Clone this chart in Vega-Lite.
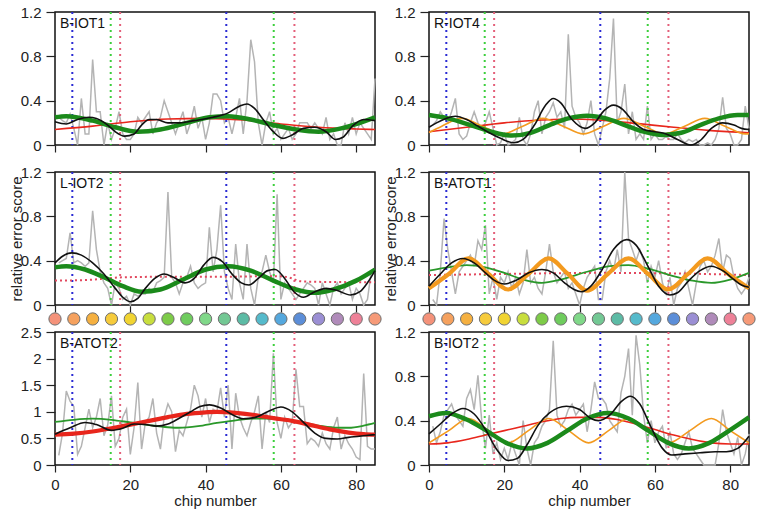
{
"$schema":"https://vega.github.io/schema/vega-lite/v6.json",
"padding":{"left":8,"top":4,"right":5,"bottom":5},
"datasets":{
"vlines":[{"x":4.6,"c":"b"},{"x":14.8,"c":"g"},{"x":17.3,"c":"r"},{"x":45.5,"c":"b"},{"x":58.1,"c":"g"},{"x":63.6,"c":"r"}],
"chips":[{"x":0},{"x":5},{"x":10},{"x":15},{"x":20},{"x":25},{"x":30},{"x":35},{"x":40},{"x":45},{"x":50},{"x":55},{"x":60},{"x":65},{"x":70},{"x":75},{"x":80},{"x":85}],
"gray":[
{"x":1,"a":0.25,"b":0.18,"c":0.38,"d":0.05,"e":0.18,"f":0.35},
{"x":2,"a":0.22,"b":0.22,"c":0.4,"d":0,"e":0.6,"f":0.2},
{"x":3,"a":0.2,"b":0.3,"c":0.42,"d":0.3,"e":1.39,"f":0.3},
{"x":4,"a":0.28,"b":0.25,"c":0.65,"d":0.78,"e":1.2,"f":0.45},
{"x":5,"a":0.15,"b":0.2,"c":0.38,"d":0.5,"e":1.1,"f":0.5},
{"x":6,"a":0,"b":0.3,"c":0.4,"d":0.3,"e":0.2,"f":0.55},
{"x":7,"a":0.42,"b":0.42,"c":0.38,"d":0.1,"e":0.35,"f":0.45},
{"x":8,"a":0.1,"b":0.1,"c":0.35,"d":0.3,"e":0.7,"f":0.4},
{"x":9,"a":0.1,"b":0.05,"c":0.38,"d":0.35,"e":1.05,"f":0.35},
{"x":10,"a":0.77,"b":0.08,"c":0.85,"d":0.4,"e":0.7,"f":0.6},
{"x":11,"a":0.3,"b":0.2,"c":0.5,"d":0.45,"e":0.9,"f":0.68},
{"x":12,"a":0.3,"b":0.3,"c":0.3,"d":0.35,"e":1.25,"f":0.5},
{"x":13,"a":0,"b":0.2,"c":0.2,"d":0.58,"e":0.55,"f":0.81},
{"x":14,"a":0.2,"b":0.15,"c":0.15,"d":0.5,"e":0.75,"f":0.4},
{"x":15,"a":0.05,"b":0.2,"c":0,"d":0.72,"e":1.3,"f":0.15},
{"x":16,"a":0.15,"b":0.3,"c":0.2,"d":0.1,"e":0.35,"f":0.45},
{"x":17,"a":0.3,"b":0.15,"c":0.15,"d":0.25,"e":0.5,"f":0.1},
{"x":18,"a":0.1,"b":0,"c":0.05,"d":0.05,"e":0.9,"f":0.2},
{"x":19,"a":0.05,"b":0.02,"c":0.08,"d":0.25,"e":1.05,"f":0.05},
{"x":20,"a":0.05,"b":0.1,"c":0,"d":0.2,"e":0.2,"f":0.15},
{"x":21,"a":0.1,"b":0,"c":0.1,"d":0.3,"e":0.7,"f":0.05},
{"x":22,"a":0.25,"b":0.02,"c":0.08,"d":0.15,"e":1.55,"f":0.2},
{"x":23,"a":0.2,"b":0.05,"c":0.1,"d":0.25,"e":0.3,"f":0.1},
{"x":24,"a":0.25,"b":0.25,"c":0.1,"d":0.1,"e":0.8,"f":0},
{"x":25,"a":0.3,"b":0.05,"c":0.15,"d":0.2,"e":0.9,"f":0.4},
{"x":26,"a":0.1,"b":0,"c":0.12,"d":0.5,"e":1.25,"f":0.15},
{"x":27,"a":0.2,"b":0.1,"c":0.2,"d":0.2,"e":0.6,"f":0},
{"x":28,"a":0.25,"b":0.3,"c":0.22,"d":0.25,"e":0.3,"f":0.2},
{"x":29,"a":0.4,"b":0.4,"c":0.25,"d":0.15,"e":0.9,"f":0.25},
{"x":30,"a":0.3,"b":0.1,"c":1.02,"d":0.1,"e":1.15,"f":0.35},
{"x":31,"a":0.2,"b":0.25,"c":0.25,"d":0.3,"e":1.0,"f":0.4},
{"x":32,"a":0.1,"b":0.3,"c":0.2,"d":0.55,"e":0.25,"f":0.5},
{"x":33,"a":0.2,"b":0.38,"c":0.1,"d":0.3,"e":0.65,"f":1.12},
{"x":34,"a":0.3,"b":0.25,"c":0.2,"d":0.2,"e":0.55,"f":0.45},
{"x":35,"a":0.1,"b":0.3,"c":0.25,"d":0.25,"e":0.8,"f":0.35},
{"x":36,"a":0.2,"b":0.15,"c":0.35,"d":0.3,"e":1.05,"f":0.4},
{"x":37,"a":0.35,"b":1.0,"c":0.2,"d":0.15,"e":1.5,"f":0.5},
{"x":38,"a":0.15,"b":0.35,"c":0.15,"d":0.2,"e":1.3,"f":0.55},
{"x":39,"a":0.25,"b":0.25,"c":0.18,"d":0.1,"e":0.9,"f":0.45},
{"x":40,"a":0.05,"b":0.2,"c":0.2,"d":0,"e":1.25,"f":0.5},
{"x":41,"a":0.2,"b":0.1,"c":0.7,"d":0.15,"e":0.8,"f":0.55},
{"x":42,"a":0.46,"b":0.2,"c":0.3,"d":0.25,"e":1.05,"f":0.3},
{"x":43,"a":0.46,"b":0.4,"c":0.5,"d":0.3,"e":1.0,"f":0.5},
{"x":44,"a":0.4,"b":0.1,"c":0.9,"d":0.35,"e":1.45,"f":0.75},
{"x":45,"a":0.2,"b":0,"c":0.3,"d":0.05,"e":0.9,"f":0.6},
{"x":46,"a":0.25,"b":0.15,"c":0.15,"d":0.05,"e":1.5,"f":0.6},
{"x":47,"a":0.1,"b":0.3,"c":0.05,"d":0.3,"e":0.3,"f":0.55},
{"x":48,"a":0.25,"b":0.6,"c":0.55,"d":0.4,"e":1.35,"f":0.4},
{"x":49,"a":0.42,"b":1.14,"c":0.2,"d":0.3,"e":0.9,"f":0.35},
{"x":50,"a":0.1,"b":0.2,"c":0.05,"d":0.5,"e":0.7,"f":0.3},
{"x":51,"a":0.4,"b":0.3,"c":0.55,"d":0.3,"e":0.55,"f":0.65},
{"x":52,"a":0.95,"b":0.55,"c":0.15,"d":1.2,"e":0.8,"f":0.8},
{"x":53,"a":0.75,"b":0.1,"c":0,"d":0.6,"e":1.0,"f":1.05},
{"x":54,"a":0.2,"b":0.3,"c":0.25,"d":0.5,"e":1.3,"f":0.45},
{"x":55,"a":0,"b":0.05,"c":0.3,"d":0.4,"e":0.3,"f":1.17},
{"x":56,"a":0.2,"b":0.1,"c":0.45,"d":0.5,"e":1.0,"f":0.9},
{"x":57,"a":0.3,"b":0.05,"c":0.3,"d":0.4,"e":0.8,"f":0.45},
{"x":58,"a":0.1,"b":0.35,"c":0.2,"d":0.2,"e":2.1,"f":0.2},
{"x":59,"a":0.15,"b":0.05,"c":1.0,"d":0.35,"e":0.8,"f":0.4},
{"x":60,"a":0.05,"b":0.1,"c":0.05,"d":0.25,"e":0.5,"f":0.2},
{"x":61,"a":0.1,"b":0.05,"c":0.2,"d":0.4,"e":0.9,"f":0.3},
{"x":62,"a":0.15,"b":0.05,"c":0.15,"d":0.2,"e":0.7,"f":0.35},
{"x":63,"a":0.05,"b":0.08,"c":0.1,"d":0.1,"e":0.8,"f":0.15},
{"x":64,"a":0.1,"b":0.05,"c":0.05,"d":0.25,"e":1.8,"f":0.3},
{"x":65,"a":0.2,"b":0.05,"c":0.1,"d":0,"e":1.1,"f":0.1},
{"x":66,"a":0.2,"b":0.1,"c":0.15,"d":0.15,"e":1.1,"f":0.05},
{"x":67,"a":0.2,"b":0.05,"c":0.2,"d":0.2,"e":0.4,"f":0.1},
{"x":68,"a":0.15,"b":0.02,"c":0.18,"d":0.3,"e":0.5,"f":0.2},
{"x":69,"a":0.2,"b":0.05,"c":0.15,"d":0.15,"e":0.45,"f":0.3},
{"x":70,"a":0.15,"b":0.03,"c":0,"d":0,"e":0.35,"f":0.15},
{"x":71,"a":0.1,"b":0.05,"c":0.2,"d":0.2,"e":0.6,"f":0.1},
{"x":72,"a":0.25,"b":0,"c":0.1,"d":0.35,"e":0.4,"f":0.05},
{"x":73,"a":0.05,"b":0,"c":0,"d":0.4,"e":0.3,"f":0},
{"x":74,"a":0.1,"b":0.02,"c":0.15,"d":0.3,"e":0.7,"f":0},
{"x":75,"a":0,"b":0,"c":0.2,"d":0.35,"e":0.9,"f":0},
{"x":76,"a":0,"b":0.05,"c":0.1,"d":0.45,"e":0.3,"f":0},
{"x":77,"a":0.2,"b":0.15,"c":0.15,"d":0.6,"e":0.55,"f":0.2},
{"x":78,"a":0.1,"b":0.43,"c":0.2,"d":0.3,"e":0.4,"f":0.5},
{"x":79,"a":0.25,"b":0.15,"c":0.05,"d":0.45,"e":0.3,"f":0.3},
{"x":80,"a":0.1,"b":0.1,"c":0.15,"d":0.42,"e":0.15,"f":0.2},
{"x":81,"a":0.2,"b":0,"c":0.1,"d":0.25,"e":0.1,"f":0.1},
{"x":82,"a":0.15,"b":0,"c":0,"d":0.15,"e":1.72,"f":0.25},
{"x":83,"a":0.1,"b":0.05,"c":0.05,"d":0.1,"e":0.35,"f":0},
{"x":84,"a":0.05,"b":0.35,"c":0.3,"d":0.15,"e":0.3,"f":0.1},
{"x":85,"a":0.6,"b":0.15,"c":0.3,"d":0.25,"e":0.3,"f":0.28}
],
"fits":[
{"p":"a","s":"k","x":0,"y":0.21},{"p":"a","s":"k","x":3,"y":0.19},{"p":"a","s":"k","x":6,"y":0.23},{"p":"a","s":"k","x":9,"y":0.25},{"p":"a","s":"k","x":11,"y":0.24},{"p":"a","s":"k","x":14,"y":0.18},{"p":"a","s":"k","x":16,"y":0.12},{"p":"a","s":"k","x":18.5,"y":0.08},{"p":"a","s":"k","x":21,"y":0.1},{"p":"a","s":"k","x":23,"y":0.18},{"p":"a","s":"k","x":25,"y":0.23},{"p":"a","s":"k","x":27,"y":0.23},{"p":"a","s":"k","x":30,"y":0.2},{"p":"a","s":"k","x":33,"y":0.2},{"p":"a","s":"k","x":37,"y":0.22},{"p":"a","s":"k","x":42,"y":0.25},{"p":"a","s":"k","x":46,"y":0.29},{"p":"a","s":"k","x":49,"y":0.35},{"p":"a","s":"k","x":51,"y":0.37},{"p":"a","s":"k","x":53,"y":0.33},{"p":"a","s":"k","x":55.5,"y":0.22},{"p":"a","s":"k","x":58,"y":0.12},{"p":"a","s":"k","x":60.5,"y":0.06},{"p":"a","s":"k","x":63,"y":0.09},{"p":"a","s":"k","x":66,"y":0.15},{"p":"a","s":"k","x":69,"y":0.16},{"p":"a","s":"k","x":72,"y":0.12},{"p":"a","s":"k","x":74.5,"y":0.05},{"p":"a","s":"k","x":76.5,"y":0.07},{"p":"a","s":"k","x":79,"y":0.17},{"p":"a","s":"k","x":82,"y":0.23},{"p":"a","s":"k","x":85,"y":0.22},
{"p":"a","s":"g","x":0,"y":0.25},{"p":"a","s":"g","x":3,"y":0.26},{"p":"a","s":"g","x":10,"y":0.22},{"p":"a","s":"g","x":16,"y":0.16},{"p":"a","s":"g","x":22,"y":0.12},{"p":"a","s":"g","x":28,"y":0.14},{"p":"a","s":"g","x":35,"y":0.2},{"p":"a","s":"g","x":41,"y":0.25},{"p":"a","s":"g","x":46,"y":0.26},{"p":"a","s":"g","x":52,"y":0.23},{"p":"a","s":"g","x":58,"y":0.18},{"p":"a","s":"g","x":64,"y":0.14},{"p":"a","s":"g","x":70,"y":0.12},{"p":"a","s":"g","x":76,"y":0.15},{"p":"a","s":"g","x":81,"y":0.2},{"p":"a","s":"g","x":85,"y":0.25},
{"p":"a","s":"r","x":0,"y":0.14},{"p":"a","s":"r","x":10,"y":0.17},{"p":"a","s":"r","x":20,"y":0.21},{"p":"a","s":"r","x":30,"y":0.235},{"p":"a","s":"r","x":40,"y":0.24},{"p":"a","s":"r","x":50,"y":0.225},{"p":"a","s":"r","x":60,"y":0.19},{"p":"a","s":"r","x":70,"y":0.16},{"p":"a","s":"r","x":80,"y":0.145},{"p":"a","s":"r","x":85,"y":0.14},
{"p":"b","s":"k","x":0,"y":0.16},{"p":"b","s":"k","x":2,"y":0.2},{"p":"b","s":"k","x":4.5,"y":0.24},{"p":"b","s":"k","x":7,"y":0.26},{"p":"b","s":"k","x":10,"y":0.23},{"p":"b","s":"k","x":13,"y":0.17},{"p":"b","s":"k","x":16,"y":0.11},{"p":"b","s":"k","x":19,"y":0.06},{"p":"b","s":"k","x":22.5,"y":0.02},{"p":"b","s":"k","x":25,"y":0.05},{"p":"b","s":"k","x":28,"y":0.18},{"p":"b","s":"k","x":31,"y":0.36},{"p":"b","s":"k","x":33,"y":0.42},{"p":"b","s":"k","x":35,"y":0.38},{"p":"b","s":"k","x":38,"y":0.23},{"p":"b","s":"k","x":41.5,"y":0.15},{"p":"b","s":"k","x":44,"y":0.2},{"p":"b","s":"k","x":46.5,"y":0.31},{"p":"b","s":"k","x":49,"y":0.36},{"p":"b","s":"k","x":51.5,"y":0.32},{"p":"b","s":"k","x":54,"y":0.22},{"p":"b","s":"k","x":57,"y":0.14},{"p":"b","s":"k","x":60,"y":0.12},{"p":"b","s":"k","x":63,"y":0.1},{"p":"b","s":"k","x":66,"y":0.05},{"p":"b","s":"k","x":69.5,"y":0},{"p":"b","s":"k","x":72,"y":0.04},{"p":"b","s":"k","x":75,"y":0.15},{"p":"b","s":"k","x":78,"y":0.2},{"p":"b","s":"k","x":81,"y":0.18},{"p":"b","s":"k","x":83,"y":0.15},{"p":"b","s":"k","x":85,"y":0.14},
{"p":"b","s":"g","x":0,"y":0.27},{"p":"b","s":"g","x":5,"y":0.24},{"p":"b","s":"g","x":11,"y":0.18},{"p":"b","s":"g","x":16.5,"y":0.12},{"p":"b","s":"g","x":22,"y":0.085},{"p":"b","s":"g","x":27,"y":0.11},{"p":"b","s":"g","x":32,"y":0.18},{"p":"b","s":"g","x":37,"y":0.24},{"p":"b","s":"g","x":42,"y":0.265},{"p":"b","s":"g","x":47,"y":0.24},{"p":"b","s":"g","x":52,"y":0.18},{"p":"b","s":"g","x":57,"y":0.12},{"p":"b","s":"g","x":62,"y":0.09},{"p":"b","s":"g","x":67,"y":0.11},{"p":"b","s":"g","x":72,"y":0.18},{"p":"b","s":"g","x":77,"y":0.24},{"p":"b","s":"g","x":82,"y":0.27},{"p":"b","s":"g","x":85,"y":0.27},
{"p":"b","s":"o","x":0,"y":0.112},{"p":"b","s":"o","x":3.4,"y":0.17},{"p":"b","s":"o","x":8.75,"y":0.24},{"p":"b","s":"o","x":14.1,"y":0.17},{"p":"b","s":"o","x":19.5,"y":0.1},{"p":"b","s":"o","x":24.9,"y":0.17},{"p":"b","s":"o","x":30.25,"y":0.24},{"p":"b","s":"o","x":35.6,"y":0.17},{"p":"b","s":"o","x":41,"y":0.1},{"p":"b","s":"o","x":46.4,"y":0.17},{"p":"b","s":"o","x":51.75,"y":0.24},{"p":"b","s":"o","x":57.1,"y":0.17},{"p":"b","s":"o","x":62.5,"y":0.1},{"p":"b","s":"o","x":67.9,"y":0.17},{"p":"b","s":"o","x":73.25,"y":0.24},{"p":"b","s":"o","x":78.6,"y":0.17},{"p":"b","s":"o","x":84,"y":0.1},{"p":"b","s":"o","x":85,"y":0.102},
{"p":"b","s":"r","x":0,"y":0.12},{"p":"b","s":"r","x":10,"y":0.16},{"p":"b","s":"r","x":20,"y":0.2},{"p":"b","s":"r","x":30,"y":0.225},{"p":"b","s":"r","x":38,"y":0.235},{"p":"b","s":"r","x":45,"y":0.225},{"p":"b","s":"r","x":55,"y":0.195},{"p":"b","s":"r","x":65,"y":0.16},{"p":"b","s":"r","x":75,"y":0.13},{"p":"b","s":"r","x":85,"y":0.11},
{"p":"c","s":"k","x":0,"y":0.38},{"p":"c","s":"k","x":2,"y":0.44},{"p":"c","s":"k","x":4.5,"y":0.47},{"p":"c","s":"k","x":7,"y":0.45},{"p":"c","s":"k","x":10,"y":0.38},{"p":"c","s":"k","x":13,"y":0.28},{"p":"c","s":"k","x":16,"y":0.15},{"p":"c","s":"k","x":18,"y":0.07},{"p":"c","s":"k","x":20,"y":0.03},{"p":"c","s":"k","x":22,"y":0.06},{"p":"c","s":"k","x":24,"y":0.15},{"p":"c","s":"k","x":26.5,"y":0.24},{"p":"c","s":"k","x":29,"y":0.28},{"p":"c","s":"k","x":31.5,"y":0.25},{"p":"c","s":"k","x":34.5,"y":0.2},{"p":"c","s":"k","x":37,"y":0.24},{"p":"c","s":"k","x":39.5,"y":0.36},{"p":"c","s":"k","x":42,"y":0.43},{"p":"c","s":"k","x":44.5,"y":0.39},{"p":"c","s":"k","x":47,"y":0.28},{"p":"c","s":"k","x":49.5,"y":0.2},{"p":"c","s":"k","x":51.5,"y":0.18},{"p":"c","s":"k","x":54,"y":0.24},{"p":"c","s":"k","x":56.5,"y":0.31},{"p":"c","s":"k","x":58.5,"y":0.32},{"p":"c","s":"k","x":61,"y":0.24},{"p":"c","s":"k","x":63.5,"y":0.12},{"p":"c","s":"k","x":66,"y":0.07},{"p":"c","s":"k","x":69,"y":0.12},{"p":"c","s":"k","x":72,"y":0.15},{"p":"c","s":"k","x":75,"y":0.13},{"p":"c","s":"k","x":78.5,"y":0.09},{"p":"c","s":"k","x":81,"y":0.12},{"p":"c","s":"k","x":83,"y":0.2},{"p":"c","s":"k","x":85,"y":0.31},
{"p":"c","s":"g","x":0,"y":0.34},{"p":"c","s":"g","x":3,"y":0.35},{"p":"c","s":"g","x":8,"y":0.32},{"p":"c","s":"g","x":13,"y":0.25},{"p":"c","s":"g","x":18,"y":0.17},{"p":"c","s":"g","x":23,"y":0.12},{"p":"c","s":"g","x":28,"y":0.14},{"p":"c","s":"g","x":34,"y":0.23},{"p":"c","s":"g","x":40,"y":0.32},{"p":"c","s":"g","x":46,"y":0.35},{"p":"c","s":"g","x":52,"y":0.31},{"p":"c","s":"g","x":58,"y":0.22},{"p":"c","s":"g","x":64,"y":0.14},{"p":"c","s":"g","x":69,"y":0.11},{"p":"c","s":"g","x":74,"y":0.14},{"p":"c","s":"g","x":80,"y":0.22},{"p":"c","s":"g","x":85,"y":0.32},
{"p":"c","s":"d","x":0,"y":0.22},{"p":"c","s":"d","x":8,"y":0.225},{"p":"c","s":"d","x":14,"y":0.24},{"p":"c","s":"d","x":18,"y":0.25},{"p":"c","s":"d","x":30,"y":0.255},{"p":"c","s":"d","x":45,"y":0.255},{"p":"c","s":"d","x":58,"y":0.26},{"p":"c","s":"d","x":61,"y":0.255},{"p":"c","s":"d","x":63,"y":0.24},{"p":"c","s":"d","x":65,"y":0.215},{"p":"c","s":"d","x":68,"y":0.21},{"p":"c","s":"d","x":85,"y":0.205},
{"p":"d","s":"k","x":0,"y":0.17},{"p":"d","s":"k","x":3,"y":0.28},{"p":"d","s":"k","x":6,"y":0.38},{"p":"d","s":"k","x":9,"y":0.42},{"p":"d","s":"k","x":12,"y":0.38},{"p":"d","s":"k","x":15,"y":0.29},{"p":"d","s":"k","x":17.5,"y":0.22},{"p":"d","s":"k","x":20,"y":0.19},{"p":"d","s":"k","x":23,"y":0.22},{"p":"d","s":"k","x":26.5,"y":0.29},{"p":"d","s":"k","x":30,"y":0.32},{"p":"d","s":"k","x":33,"y":0.29},{"p":"d","s":"k","x":36,"y":0.2},{"p":"d","s":"k","x":38.5,"y":0.14},{"p":"d","s":"k","x":40.5,"y":0.12},{"p":"d","s":"k","x":43,"y":0.17},{"p":"d","s":"k","x":46,"y":0.32},{"p":"d","s":"k","x":49,"y":0.5},{"p":"d","s":"k","x":52.5,"y":0.59},{"p":"d","s":"k","x":55,"y":0.54},{"p":"d","s":"k","x":58,"y":0.36},{"p":"d","s":"k","x":61,"y":0.17},{"p":"d","s":"k","x":64,"y":0.09},{"p":"d","s":"k","x":66,"y":0.11},{"p":"d","s":"k","x":69,"y":0.22},{"p":"d","s":"k","x":72,"y":0.31},{"p":"d","s":"k","x":75,"y":0.35},{"p":"d","s":"k","x":78,"y":0.31},{"p":"d","s":"k","x":81,"y":0.23},{"p":"d","s":"k","x":83,"y":0.18},{"p":"d","s":"k","x":85,"y":0.16},
{"p":"d","s":"o","x":0,"y":0.15},{"p":"d","s":"o","x":5.25,"y":0.28},{"p":"d","s":"o","x":10.5,"y":0.42},{"p":"d","s":"o","x":15.8,"y":0.28},{"p":"d","s":"o","x":21,"y":0.14},{"p":"d","s":"o","x":26.4,"y":0.28},{"p":"d","s":"o","x":31.8,"y":0.42},{"p":"d","s":"o","x":36.9,"y":0.28},{"p":"d","s":"o","x":42,"y":0.13},{"p":"d","s":"o","x":47.5,"y":0.28},{"p":"d","s":"o","x":53,"y":0.42},{"p":"d","s":"o","x":58.2,"y":0.28},{"p":"d","s":"o","x":63.5,"y":0.14},{"p":"d","s":"o","x":68.8,"y":0.28},{"p":"d","s":"o","x":74,"y":0.42},{"p":"d","s":"o","x":79.5,"y":0.28},{"p":"d","s":"o","x":85,"y":0.15},
{"p":"d","s":"g","x":0,"y":0.31},{"p":"d","s":"g","x":5,"y":0.34},{"p":"d","s":"g","x":10,"y":0.36},{"p":"d","s":"g","x":15,"y":0.34},{"p":"d","s":"g","x":20,"y":0.29},{"p":"d","s":"g","x":25,"y":0.23},{"p":"d","s":"g","x":30,"y":0.2},{"p":"d","s":"g","x":35,"y":0.23},{"p":"d","s":"g","x":42,"y":0.3},{"p":"d","s":"g","x":48,"y":0.35},{"p":"d","s":"g","x":53,"y":0.36},{"p":"d","s":"g","x":58,"y":0.33},{"p":"d","s":"g","x":64,"y":0.27},{"p":"d","s":"g","x":70,"y":0.22},{"p":"d","s":"g","x":75,"y":0.2},{"p":"d","s":"g","x":80,"y":0.23},{"p":"d","s":"g","x":85,"y":0.29},
{"p":"d","s":"d","x":0,"y":0.27},{"p":"d","s":"d","x":20,"y":0.28},{"p":"d","s":"d","x":45,"y":0.29},{"p":"d","s":"d","x":65,"y":0.285},{"p":"d","s":"d","x":85,"y":0.27},
{"p":"e","s":"k","x":0,"y":0.58},{"p":"e","s":"k","x":4,"y":0.7},{"p":"e","s":"k","x":8,"y":0.8},{"p":"e","s":"k","x":11,"y":0.76},{"p":"e","s":"k","x":15,"y":0.65},{"p":"e","s":"k","x":18,"y":0.69},{"p":"e","s":"k","x":21,"y":0.77},{"p":"e","s":"k","x":24,"y":0.76},{"p":"e","s":"k","x":27,"y":0.73},{"p":"e","s":"k","x":30,"y":0.77},{"p":"e","s":"k","x":33,"y":0.88},{"p":"e","s":"k","x":36,"y":1.0},{"p":"e","s":"k","x":38.5,"y":1.1},{"p":"e","s":"k","x":41,"y":1.13},{"p":"e","s":"k","x":44,"y":1.07},{"p":"e","s":"k","x":47,"y":0.95},{"p":"e","s":"k","x":50,"y":0.87},{"p":"e","s":"k","x":53,"y":0.89},{"p":"e","s":"k","x":57,"y":1.02},{"p":"e","s":"k","x":60,"y":1.09},{"p":"e","s":"k","x":63,"y":1.0},{"p":"e","s":"k","x":66,"y":0.8},{"p":"e","s":"k","x":69,"y":0.6},{"p":"e","s":"k","x":72,"y":0.5},{"p":"e","s":"k","x":75,"y":0.49},{"p":"e","s":"k","x":78,"y":0.52},{"p":"e","s":"k","x":82,"y":0.55},{"p":"e","s":"k","x":85,"y":0.57},
{"p":"e","s":"r","x":0,"y":0.57},{"p":"e","s":"r","x":5,"y":0.59},{"p":"e","s":"r","x":10,"y":0.63},{"p":"e","s":"r","x":15,"y":0.69},{"p":"e","s":"r","x":20,"y":0.76},{"p":"e","s":"r","x":25,"y":0.83},{"p":"e","s":"r","x":30,"y":0.9},{"p":"e","s":"r","x":35,"y":0.96},{"p":"e","s":"r","x":40,"y":0.99},{"p":"e","s":"r","x":43,"y":1.0},{"p":"e","s":"r","x":48,"y":0.98},{"p":"e","s":"r","x":53,"y":0.94},{"p":"e","s":"r","x":58,"y":0.88},{"p":"e","s":"r","x":63,"y":0.83},{"p":"e","s":"r","x":68,"y":0.75},{"p":"e","s":"r","x":73,"y":0.67},{"p":"e","s":"r","x":78,"y":0.61},{"p":"e","s":"r","x":82,"y":0.58},{"p":"e","s":"r","x":85,"y":0.57},
{"p":"e","s":"g","x":0,"y":0.81},{"p":"e","s":"g","x":5,"y":0.85},{"p":"e","s":"g","x":10,"y":0.87},{"p":"e","s":"g","x":15,"y":0.85},{"p":"e","s":"g","x":20,"y":0.8},{"p":"e","s":"g","x":25,"y":0.75},{"p":"e","s":"g","x":30,"y":0.71},{"p":"e","s":"g","x":33,"y":0.7},{"p":"e","s":"g","x":38,"y":0.73},{"p":"e","s":"g","x":43,"y":0.79},{"p":"e","s":"g","x":48,"y":0.84},{"p":"e","s":"g","x":53,"y":0.87},{"p":"e","s":"g","x":56,"y":0.87},{"p":"e","s":"g","x":60,"y":0.85},{"p":"e","s":"g","x":65,"y":0.8},{"p":"e","s":"g","x":70,"y":0.74},{"p":"e","s":"g","x":75,"y":0.7},{"p":"e","s":"g","x":78,"y":0.7},{"p":"e","s":"g","x":82,"y":0.74},{"p":"e","s":"g","x":85,"y":0.79},
{"p":"f","s":"k","x":0,"y":0.28},{"p":"f","s":"k","x":3,"y":0.37},{"p":"f","s":"k","x":6,"y":0.46},{"p":"f","s":"k","x":9,"y":0.51},{"p":"f","s":"k","x":12,"y":0.46},{"p":"f","s":"k","x":15,"y":0.32},{"p":"f","s":"k","x":18,"y":0.14},{"p":"f","s":"k","x":21,"y":0.04},{"p":"f","s":"k","x":23.5,"y":0.06},{"p":"f","s":"k","x":26,"y":0.18},{"p":"f","s":"k","x":29,"y":0.36},{"p":"f","s":"k","x":32,"y":0.47},{"p":"f","s":"k","x":36.5,"y":0.53},{"p":"f","s":"k","x":40,"y":0.5},{"p":"f","s":"k","x":43,"y":0.42},{"p":"f","s":"k","x":45,"y":0.4},{"p":"f","s":"k","x":48,"y":0.45},{"p":"f","s":"k","x":51,"y":0.57},{"p":"f","s":"k","x":53.5,"y":0.62},{"p":"f","s":"k","x":56,"y":0.55},{"p":"f","s":"k","x":59,"y":0.34},{"p":"f","s":"k","x":62,"y":0.15},{"p":"f","s":"k","x":64.5,"y":0.09},{"p":"f","s":"k","x":68,"y":0.1},{"p":"f","s":"k","x":72,"y":0.11},{"p":"f","s":"k","x":76,"y":0.12},{"p":"f","s":"k","x":79,"y":0.12},{"p":"f","s":"k","x":82,"y":0.15},{"p":"f","s":"k","x":85,"y":0.26},
{"p":"f","s":"g","x":0,"y":0.44},{"p":"f","s":"g","x":4.5,"y":0.47},{"p":"f","s":"g","x":10,"y":0.41},{"p":"f","s":"g","x":15.25,"y":0.31},{"p":"f","s":"g","x":20.5,"y":0.2},{"p":"f","s":"g","x":26,"y":0.15},{"p":"f","s":"g","x":31.5,"y":0.2},{"p":"f","s":"g","x":36.75,"y":0.31},{"p":"f","s":"g","x":42,"y":0.42},{"p":"f","s":"g","x":47.5,"y":0.47},{"p":"f","s":"g","x":53,"y":0.42},{"p":"f","s":"g","x":58.25,"y":0.31},{"p":"f","s":"g","x":63.5,"y":0.2},{"p":"f","s":"g","x":69,"y":0.15},{"p":"f","s":"g","x":74.5,"y":0.2},{"p":"f","s":"g","x":79.75,"y":0.31},{"p":"f","s":"g","x":85,"y":0.43},
{"p":"f","s":"o","x":0,"y":0.2},{"p":"f","s":"o","x":5.25,"y":0.31},{"p":"f","s":"o","x":10.5,"y":0.42},{"p":"f","s":"o","x":15.8,"y":0.31},{"p":"f","s":"o","x":21,"y":0.2},{"p":"f","s":"o","x":26.4,"y":0.31},{"p":"f","s":"o","x":31.8,"y":0.42},{"p":"f","s":"o","x":37.1,"y":0.31},{"p":"f","s":"o","x":42.4,"y":0.2},{"p":"f","s":"o","x":47.7,"y":0.31},{"p":"f","s":"o","x":53,"y":0.42},{"p":"f","s":"o","x":58.4,"y":0.31},{"p":"f","s":"o","x":63.7,"y":0.2},{"p":"f","s":"o","x":69.3,"y":0.31},{"p":"f","s":"o","x":75,"y":0.42},{"p":"f","s":"o","x":80,"y":0.31},{"p":"f","s":"o","x":85,"y":0.2},
{"p":"f","s":"r","x":0,"y":0.19},{"p":"f","s":"r","x":5,"y":0.2},{"p":"f","s":"r","x":10,"y":0.23},{"p":"f","s":"r","x":15,"y":0.27},{"p":"f","s":"r","x":20,"y":0.31},{"p":"f","s":"r","x":25,"y":0.35},{"p":"f","s":"r","x":30,"y":0.39},{"p":"f","s":"r","x":35,"y":0.42},{"p":"f","s":"r","x":40,"y":0.43},{"p":"f","s":"r","x":45,"y":0.43},{"p":"f","s":"r","x":50,"y":0.41},{"p":"f","s":"r","x":55,"y":0.37},{"p":"f","s":"r","x":60,"y":0.32},{"p":"f","s":"r","x":65,"y":0.27},{"p":"f","s":"r","x":70,"y":0.23},{"p":"f","s":"r","x":75,"y":0.2},{"p":"f","s":"r","x":80,"y":0.19},{"p":"f","s":"r","x":85,"y":0.19}
]
},
"columns":2,
"spacing":{"row":27,"column":54},
"bounds":"flush",
"concat":[
{"width":320,"height":133,"layer":[
 {"data":{"name":"gray"},"transform":[{"fold":["a"],"as":["p","y"]}],"mark":{"type":"line","color":"#b4b4b4","strokeWidth":1.5},"encoding":{"x":{"field":"x","type":"quantitative","scale":{"domain":[0,85],"nice":false},"axis":{"values":[0,20,40,60,80],"tickCount":10,"labels":false,"title":null}},"y":{"field":"y","type":"quantitative","scale":{"domain":[0,1.2],"nice":false},"axis":{"values":[0,0.4,0.8,1.2],"tickCount":10,"format":".1~f","title":null}}}},
 {"data":{"values":[{"t":"B-IOT1"}]},"mark":{"type":"text","align":"left","baseline":"top","dx":5,"dy":5,"fontSize":14,"color":"#111"},"encoding":{"x":{"datum":0,"type":"quantitative"},"y":{"datum":1.2,"type":"quantitative"},"text":{"field":"t"}}},
 {"data":{"name":"vlines"},"mark":{"type":"rule","strokeDash":[2,4],"strokeWidth":2},"encoding":{"x":{"field":"x","type":"quantitative"},"stroke":{"field":"c","type":"nominal","scale":{"domain":["b","g","r"],"range":["#2b2bd4","#3ccf3c","#e4607a"]},"legend":null}}},
 {"data":{"name":"fits"},"transform":[{"filter":"datum.p=='a'&&datum.s=='r'"}],"mark":{"type":"line","color":"#e8261c","strokeWidth":1.6,"interpolate":"monotone"},"encoding":{"x":{"field":"x","type":"quantitative"},"y":{"field":"y","type":"quantitative"}}},
 {"data":{"name":"fits"},"transform":[{"filter":"datum.p=='a'&&datum.s=='g'"}],"mark":{"type":"line","color":"#1b8a1b","strokeWidth":4.5,"interpolate":"monotone"},"encoding":{"x":{"field":"x","type":"quantitative"},"y":{"field":"y","type":"quantitative"}}},
 {"data":{"name":"fits"},"transform":[{"filter":"datum.p=='a'&&datum.s=='k'"}],"mark":{"type":"line","color":"#111","strokeWidth":1.6,"interpolate":"monotone"},"encoding":{"x":{"field":"x","type":"quantitative"},"y":{"field":"y","type":"quantitative"}}}
]},
{"width":320,"height":133,"layer":[
 {"data":{"name":"gray"},"transform":[{"fold":["b"],"as":["p","y"]}],"mark":{"type":"line","color":"#b4b4b4","strokeWidth":1.5},"encoding":{"x":{"field":"x","type":"quantitative","scale":{"domain":[0,85],"nice":false},"axis":{"values":[0,20,40,60,80],"tickCount":10,"labels":false,"title":null}},"y":{"field":"y","type":"quantitative","scale":{"domain":[0,1.2],"nice":false},"axis":{"values":[0,0.4,0.8,1.2],"tickCount":10,"format":".1~f","title":null}}}},
 {"data":{"values":[{"t":"R-IOT4"}]},"mark":{"type":"text","align":"left","baseline":"top","dx":5,"dy":5,"fontSize":14,"color":"#111"},"encoding":{"x":{"datum":0,"type":"quantitative"},"y":{"datum":1.2,"type":"quantitative"},"text":{"field":"t"}}},
 {"data":{"name":"vlines"},"mark":{"type":"rule","strokeDash":[2,4],"strokeWidth":2},"encoding":{"x":{"field":"x","type":"quantitative"},"stroke":{"field":"c","type":"nominal","scale":{"domain":["b","g","r"],"range":["#2b2bd4","#3ccf3c","#e4607a"]},"legend":null}}},
 {"data":{"name":"fits"},"transform":[{"filter":"datum.p=='b'&&datum.s=='r'"}],"mark":{"type":"line","color":"#e8261c","strokeWidth":1.6,"interpolate":"monotone"},"encoding":{"x":{"field":"x","type":"quantitative"},"y":{"field":"y","type":"quantitative"}}},
 {"data":{"name":"fits"},"transform":[{"filter":"datum.p=='b'&&datum.s=='o'"}],"mark":{"type":"line","color":"#f39a1f","strokeWidth":1.6,"interpolate":"monotone"},"encoding":{"x":{"field":"x","type":"quantitative"},"y":{"field":"y","type":"quantitative"}}},
 {"data":{"name":"fits"},"transform":[{"filter":"datum.p=='b'&&datum.s=='g'"}],"mark":{"type":"line","color":"#1b8a1b","strokeWidth":4.5,"interpolate":"monotone"},"encoding":{"x":{"field":"x","type":"quantitative"},"y":{"field":"y","type":"quantitative"}}},
 {"data":{"name":"fits"},"transform":[{"filter":"datum.p=='b'&&datum.s=='k'"}],"mark":{"type":"line","color":"#111","strokeWidth":1.6,"interpolate":"monotone"},"encoding":{"x":{"field":"x","type":"quantitative"},"y":{"field":"y","type":"quantitative"}}}
]},
{"width":320,"height":133,"layer":[
 {"data":{"name":"gray"},"transform":[{"fold":["c"],"as":["p","y"]}],"mark":{"type":"line","color":"#b4b4b4","strokeWidth":1.5},"encoding":{"x":{"field":"x","type":"quantitative","scale":{"domain":[0,85],"nice":false},"axis":{"values":[0,20,40,60,80],"tickCount":10,"labels":false,"title":null}},"y":{"field":"y","type":"quantitative","scale":{"domain":[0,1.2],"nice":false},"axis":{"values":[0,0.4,0.8,1.2],"tickCount":10,"format":".1~f","title":"relative error score","titleX":-31,"titleY":66.5,"titleAngle":-90,"titleBaseline":"bottom","titleAlign":"center"}}}},
 {"data":{"values":[{"t":"L-IOT2"}]},"mark":{"type":"text","align":"left","baseline":"top","dx":5,"dy":5,"fontSize":14,"color":"#111"},"encoding":{"x":{"datum":0,"type":"quantitative"},"y":{"datum":1.2,"type":"quantitative"},"text":{"field":"t"}}},
 {"data":{"name":"vlines"},"mark":{"type":"rule","strokeDash":[2,4],"strokeWidth":2},"encoding":{"x":{"field":"x","type":"quantitative"},"stroke":{"field":"c","type":"nominal","scale":{"domain":["b","g","r"],"range":["#2b2bd4","#3ccf3c","#e4607a"]},"legend":null}}},
 {"data":{"name":"fits"},"transform":[{"filter":"datum.p=='c'&&datum.s=='d'"}],"mark":{"type":"line","color":"#e2485e","strokeWidth":2,"strokeDash":[2,3],"interpolate":"monotone"},"encoding":{"x":{"field":"x","type":"quantitative"},"y":{"field":"y","type":"quantitative"}}},
 {"data":{"name":"fits"},"transform":[{"filter":"datum.p=='c'&&datum.s=='g'"}],"mark":{"type":"line","color":"#1b8a1b","strokeWidth":4.5,"interpolate":"monotone"},"encoding":{"x":{"field":"x","type":"quantitative"},"y":{"field":"y","type":"quantitative"}}},
 {"data":{"name":"fits"},"transform":[{"filter":"datum.p=='c'&&datum.s=='k'"}],"mark":{"type":"line","color":"#111","strokeWidth":1.6,"interpolate":"monotone"},"encoding":{"x":{"field":"x","type":"quantitative"},"y":{"field":"y","type":"quantitative"}}},
 {"data":{"name":"chips"},"mark":{"type":"circle","size":150,"opacity":1,"stroke":"#6e6e6e","strokeWidth":1},"encoding":{"x":{"field":"x","type":"quantitative"},"y":{"datum":-0.126,"type":"quantitative"},"fill":{"field":"x","type":"ordinal","scale":{"domain":[0,5,10,15,20,25,30,35,40,45,50,55,60,65,70,75,80,85],"range":["#f4927a","#f5a15e","#f5b040","#f6cb3c","#f1d432","#c8de3e","#7dcb48","#6fcc5e","#80d889","#73c894","#5cbba5","#55bacb","#55a8de","#5c8ed8","#9b8fd4","#b08bba","#ee8198","#f69a78"]},"legend":null}}}
]},
{"width":320,"height":133,"layer":[
 {"data":{"name":"gray"},"transform":[{"fold":["d"],"as":["p","y"]}],"mark":{"type":"line","color":"#b4b4b4","strokeWidth":1.5},"encoding":{"x":{"field":"x","type":"quantitative","scale":{"domain":[0,85],"nice":false},"axis":{"values":[0,20,40,60,80],"tickCount":10,"labels":false,"title":null}},"y":{"field":"y","type":"quantitative","scale":{"domain":[0,1.2],"nice":false},"axis":{"values":[0,0.4,0.8,1.2],"tickCount":10,"format":".1~f","title":"relative error score","titleX":-31,"titleY":66.5,"titleAngle":-90,"titleBaseline":"bottom","titleAlign":"center"}}}},
 {"data":{"values":[{"t":"B-ATOT1"}]},"mark":{"type":"text","align":"left","baseline":"top","dx":5,"dy":5,"fontSize":14,"color":"#111"},"encoding":{"x":{"datum":0,"type":"quantitative"},"y":{"datum":1.2,"type":"quantitative"},"text":{"field":"t"}}},
 {"data":{"name":"vlines"},"mark":{"type":"rule","strokeDash":[2,4],"strokeWidth":2},"encoding":{"x":{"field":"x","type":"quantitative"},"stroke":{"field":"c","type":"nominal","scale":{"domain":["b","g","r"],"range":["#2b2bd4","#3ccf3c","#e4607a"]},"legend":null}}},
 {"data":{"name":"fits"},"transform":[{"filter":"datum.p=='d'&&datum.s=='d'"}],"mark":{"type":"line","color":"#e2485e","strokeWidth":2,"strokeDash":[2,3],"interpolate":"monotone"},"encoding":{"x":{"field":"x","type":"quantitative"},"y":{"field":"y","type":"quantitative"}}},
 {"data":{"name":"fits"},"transform":[{"filter":"datum.p=='d'&&datum.s=='g'"}],"mark":{"type":"line","color":"#2a982a","strokeWidth":1.8,"interpolate":"monotone"},"encoding":{"x":{"field":"x","type":"quantitative"},"y":{"field":"y","type":"quantitative"}}},
 {"data":{"name":"fits"},"transform":[{"filter":"datum.p=='d'&&datum.s=='o'"}],"mark":{"type":"line","color":"#f39a1f","strokeWidth":4.2,"interpolate":"monotone"},"encoding":{"x":{"field":"x","type":"quantitative"},"y":{"field":"y","type":"quantitative"}}},
 {"data":{"name":"fits"},"transform":[{"filter":"datum.p=='d'&&datum.s=='k'"}],"mark":{"type":"line","color":"#111","strokeWidth":1.6,"interpolate":"monotone"},"encoding":{"x":{"field":"x","type":"quantitative"},"y":{"field":"y","type":"quantitative"}}},
 {"data":{"name":"chips"},"mark":{"type":"circle","size":150,"opacity":1,"stroke":"#6e6e6e","strokeWidth":1},"encoding":{"x":{"field":"x","type":"quantitative"},"y":{"datum":-0.126,"type":"quantitative"},"fill":{"field":"x","type":"ordinal","scale":{"domain":[0,5,10,15,20,25,30,35,40,45,50,55,60,65,70,75,80,85],"range":["#f4927a","#f5a15e","#f5b040","#f6cb3c","#f1d432","#c8de3e","#7dcb48","#6fcc5e","#80d889","#73c894","#5cbba5","#55bacb","#55a8de","#5c8ed8","#9b8fd4","#b08bba","#ee8198","#f69a78"]},"legend":null}}}
]},
{"width":320,"height":133,"layer":[
 {"data":{"name":"gray"},"transform":[{"fold":["e"],"as":["p","y"]}],"mark":{"type":"line","color":"#b4b4b4","strokeWidth":1.5},"encoding":{"x":{"field":"x","type":"quantitative","scale":{"domain":[0,85],"nice":false},"axis":{"values":[0,20,40,60,80],"tickCount":10,"format":"d","title":"chip number","titleY":40,"titleBaseline":"alphabetic"}},"y":{"field":"y","type":"quantitative","scale":{"domain":[0,2.5],"nice":false},"axis":{"values":[0,0.5,1,1.5,2,2.5],"tickCount":10,"format":".1~f","title":null}}}},
 {"data":{"values":[{"t":"B-ATOT2"}]},"mark":{"type":"text","align":"left","baseline":"top","dx":5,"dy":5,"fontSize":14,"color":"#111"},"encoding":{"x":{"datum":0,"type":"quantitative"},"y":{"datum":2.5,"type":"quantitative"},"text":{"field":"t"}}},
 {"data":{"name":"vlines"},"mark":{"type":"rule","strokeDash":[2,4],"strokeWidth":2},"encoding":{"x":{"field":"x","type":"quantitative"},"stroke":{"field":"c","type":"nominal","scale":{"domain":["b","g","r"],"range":["#2b2bd4","#3ccf3c","#e4607a"]},"legend":null}}},
 {"data":{"name":"fits"},"transform":[{"filter":"datum.p=='e'&&datum.s=='g'"}],"mark":{"type":"line","color":"#2a982a","strokeWidth":1.8,"interpolate":"monotone"},"encoding":{"x":{"field":"x","type":"quantitative"},"y":{"field":"y","type":"quantitative"}}},
 {"data":{"name":"fits"},"transform":[{"filter":"datum.p=='e'&&datum.s=='r'"}],"mark":{"type":"line","color":"#e8261c","strokeWidth":4.2,"interpolate":"monotone"},"encoding":{"x":{"field":"x","type":"quantitative"},"y":{"field":"y","type":"quantitative"}}},
 {"data":{"name":"fits"},"transform":[{"filter":"datum.p=='e'&&datum.s=='k'"}],"mark":{"type":"line","color":"#111","strokeWidth":1.6,"interpolate":"monotone"},"encoding":{"x":{"field":"x","type":"quantitative"},"y":{"field":"y","type":"quantitative"}}}
]},
{"width":320,"height":133,"layer":[
 {"data":{"name":"gray"},"transform":[{"fold":["f"],"as":["p","y"]}],"mark":{"type":"line","color":"#b4b4b4","strokeWidth":1.5},"encoding":{"x":{"field":"x","type":"quantitative","scale":{"domain":[0,85],"nice":false},"axis":{"values":[0,20,40,60,80],"tickCount":10,"format":"d","title":"chip number","titleY":40,"titleBaseline":"alphabetic"}},"y":{"field":"y","type":"quantitative","scale":{"domain":[0,1.2],"nice":false},"axis":{"values":[0,0.4,0.8,1.2],"tickCount":10,"format":".1~f","title":null}}}},
 {"data":{"values":[{"t":"B-IOT2"}]},"mark":{"type":"text","align":"left","baseline":"top","dx":5,"dy":5,"fontSize":14,"color":"#111"},"encoding":{"x":{"datum":0,"type":"quantitative"},"y":{"datum":1.2,"type":"quantitative"},"text":{"field":"t"}}},
 {"data":{"name":"vlines"},"mark":{"type":"rule","strokeDash":[2,4],"strokeWidth":2},"encoding":{"x":{"field":"x","type":"quantitative"},"stroke":{"field":"c","type":"nominal","scale":{"domain":["b","g","r"],"range":["#2b2bd4","#3ccf3c","#e4607a"]},"legend":null}}},
 {"data":{"name":"fits"},"transform":[{"filter":"datum.p=='f'&&datum.s=='r'"}],"mark":{"type":"line","color":"#e8261c","strokeWidth":1.6,"interpolate":"monotone"},"encoding":{"x":{"field":"x","type":"quantitative"},"y":{"field":"y","type":"quantitative"}}},
 {"data":{"name":"fits"},"transform":[{"filter":"datum.p=='f'&&datum.s=='o'"}],"mark":{"type":"line","color":"#f39a1f","strokeWidth":1.6,"interpolate":"monotone"},"encoding":{"x":{"field":"x","type":"quantitative"},"y":{"field":"y","type":"quantitative"}}},
 {"data":{"name":"fits"},"transform":[{"filter":"datum.p=='f'&&datum.s=='g'"}],"mark":{"type":"line","color":"#1b8a1b","strokeWidth":4.5,"interpolate":"monotone"},"encoding":{"x":{"field":"x","type":"quantitative"},"y":{"field":"y","type":"quantitative"}}},
 {"data":{"name":"fits"},"transform":[{"filter":"datum.p=='f'&&datum.s=='k'"}],"mark":{"type":"line","color":"#111","strokeWidth":1.6,"interpolate":"monotone"},"encoding":{"x":{"field":"x","type":"quantitative"},"y":{"field":"y","type":"quantitative"}}}
]}
],
"config":{
 "font":"Liberation Sans",
 "view":{"stroke":"#111","strokeWidth":1.5},
 "axis":{"grid":false,"domain":false,"tickColor":"#222","tickWidth":1.2,"labelFontSize":15,"labelColor":"#222","titleFontSize":15,"titleFontWeight":"normal","titleColor":"#222","labelFlush":false,"labelOverlap":false},
 "axisX":{"tickSize":7,"labelPadding":5},
 "axisY":{"tickSize":9,"labelPadding":5}
}
}
